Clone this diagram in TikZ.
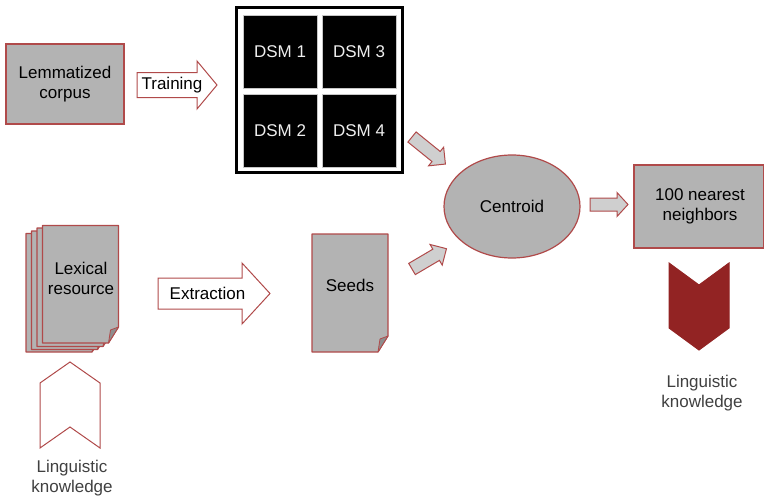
\documentclass[tikz,border=0pt]{standalone}
\usepackage{fontspec}
\setmainfont{Liberation Sans}
\usetikzlibrary{calc,shapes.geometric}

\definecolor{boxgray}{HTML}{B3B3B3}
\definecolor{edgered}{HTML}{B04A4A}
\definecolor{arrowgray}{HTML}{CFCFCF}
\definecolor{flapgray}{HTML}{8E8E8E}
\definecolor{deepred}{HTML}{922323}
\definecolor{labelgray}{HTML}{404040}
\definecolor{dsmtext}{HTML}{EEEEEE}

\tikzset{
  lbl/.style={font=\fontsize{17}{20}\selectfont, align=center, inner sep=0pt},
  graybox/.style={draw=edgered, fill=boxgray, line width=1.2pt, inner sep=0pt},
  pagebody/.style={draw=edgered, fill=boxgray, line width=1.2pt, line join=round},
  pageflap/.style={draw=edgered, fill=flapgray, line width=0.8pt, line join=round},
  blockarrow/.style={draw=edgered, fill=arrowgray, line width=1pt, line join=miter},
  dsmcell/.style={fill=black, draw=gray!45, line width=0.6pt, minimum width=74pt,
    minimum height=73pt, inner sep=0pt, text=dsmtext, font=\fontsize{17}{20}\selectfont},
  chevron/.style={draw=edgered, line width=1pt, line join=miter},
}

% page with a folded lower-right corner: x0 y0 x1 y1
\newcommand\docpage[4]{%
  \draw[pagebody] (#1,#2) -- (#3,#2) -- (#3,{#4-16}) -- ({#3-10},#4) -- (#1,#4) -- cycle;
  \draw[pageflap] (#3,{#4-16}) -- ({#3-10},#4) -- ({#3-8},{#4-13}) -- cycle;}

% wide block arrow: [style] tail, angle, length, body half width, head half width, head length
\newcommand\fatarrow[7][]{%
  \draw[blockarrow,#1,shift={#2},rotate=#3]
    (0,-#5) -- ({#4-#7},-#5) -- ({#4-#7},-#6) -- (#4,0) -- ({#4-#7},#6)
    -- ({#4-#7},#5) -- (0,#5) -- cycle;}

\begin{document}
\begin{tikzpicture}[x=1pt,y=-1pt]
\useasboundingbox (0,0) rectangle (764,498);

% corpus and training
\node[graybox, minimum width=118pt, minimum height=80pt] (corpus) at (65,84) {};
\node[lbl] (corpustext) at (corpus.center) {Lemmatized\\corpus};
\coordinate (trainTail) at (137,85);
\fatarrow[fill=white]{(trainTail)}{0}{80}{12.5}{24}{20}
\node[lbl] (training) at (172,85) {Training};

% the four models
\draw[line width=2.6pt] (236.5,7.5) rectangle (402.5,172.5);
\node[dsmcell] (dsm1) at (280,51.5) {DSM 1};
\node[dsmcell] (dsm3) at (359,51.5) {DSM 3};
\node[dsmcell] (dsm2) at (280,130.5) {DSM 2};
\node[dsmcell] (dsm4) at (359,130.5) {DSM 4};

% lexical resource: stack of pages
\docpage{26}{233.5}{102}{352}
\docpage{31.5}{231}{107.5}{349.5}
\docpage{37}{228}{113}{346.5}
\docpage{42.5}{225.5}{118.5}{343}
\node[lbl] (lexical) at (81,278) {Lexical\\resource};

\coordinate (extrTail) at (158,293.5);
\fatarrow[fill=white]{(extrTail)}{0}{112}{15.5}{30.5}{28}
\node[lbl] (extraction) at (207.5,293.5) {Extraction};

% seeds
\docpage{312}{234}{388}{352}
\node[lbl] (seeds) at (350,285) {Seeds};

% centroid
\node[graybox, ellipse, minimum width=136pt, minimum height=103pt] (centroid) at (512,206.5) {};
\node[lbl] (centroidtext) at (centroid.center) {Centroid};

\coordinate (dsmTail) at (412,137);
\fatarrow{(dsmTail)}{-39}{43}{6.5}{12}{12}
\coordinate (seedTail) at (412,269);
\fatarrow{(seedTail)}{30.5}{40}{6.5}{12}{12}
\coordinate (centTail) at (590,204.5);
\fatarrow{(centTail)}{0}{38}{6.5}{12}{11}

% neighbours
\draw[graybox] (634,165) rectangle (763.5,248);
\node[lbl] (nearest) at (700,206.5) {100 nearest\\neighbors};

% linguistic knowledge markers
\draw[chevron, fill=deepred, draw=deepred] (669,263) -- (699,285) -- (729,263) -- (729,328)
  -- (699,350) -- (669,328) -- cycle;
\node[lbl, text=labelgray] (lingright) at (702,393) {Linguistic\\knowledge};

\draw[chevron, fill=white] (40,383) -- (70,362) -- (100,383) -- (100,448) -- (70,427)
  -- (40,448) -- cycle;
\node[lbl, text=labelgray] (lingleft) at (72,478) {Linguistic\\knowledge};
\end{tikzpicture}
\end{document}
